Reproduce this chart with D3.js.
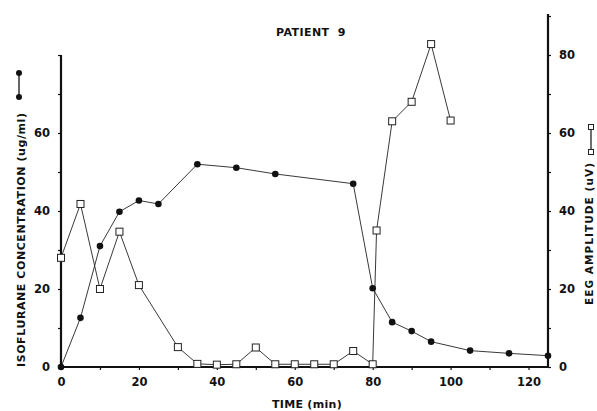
<!DOCTYPE html>
<html>
<head>
<meta charset="utf-8">
<script src="https://cdn.jsdelivr.net/npm/d3@7"></script>
<style>
  body { margin: 0; background: #fff; }
  text { font-family: "DejaVu Sans", sans-serif; font-weight: bold; fill: #111; }
</style>
</head>
<body>
<div id="chart"></div>
<script>
var width = 597;
var height = 411;

// isoflurane concentration (ug/ml), left axis
var isoTime = [0, 5, 10, 15, 20, 25, 35, 45, 55, 75, 80, 85, 90, 95, 105, 115, 125];
var isoConc = [0, 12.6, 31, 39.8, 42.7, 41.8, 52, 51.1, 49.5, 47, 20.2, 11.5, 9.2, 6.5, 4.2, 3.5, 2.9];

// EEG amplitude (uV), right axis
var eegTime = [0, 5, 10, 15, 20, 30, 35, 40, 45, 50, 55, 60, 65, 70, 75, 80, 81, 85, 90, 95, 100];
var eegAmp = [28, 41.8, 20, 34.7, 21, 5.1, 0.8, 0.6, 0.7, 5, 0.7, 0.7, 0.7, 0.7, 4.1, 0.7, 35, 63, 68, 82.8, 63.2];

var xTicks = [0, 20, 40, 60, 80, 100, 120];
var leftTicks = [0, 20, 40, 60];
var rightTicks = [0, 20, 40, 60, 80];

var svg = d3.select("#chart")
  .append("svg")
  .attr("width", width)
  .attr("height", height);

var x = d3.scaleLinear().domain([0, 125]).range([61, 548]);
var yLeft = d3.scaleLinear().domain([0, 80]).range([367, 55]);
var yRight = d3.scaleLinear().domain([0, 90]).range([367, 16]);

// axes
var xAxis = d3.axisBottom(x).tickValues(d3.range(0, 126, 10)).tickSize(3)
  .tickFormat(function(d) { return xTicks.indexOf(d) >= 0 ? d : ""; });
var gx = svg.append("g").attr("transform", "translate(0,367)").call(xAxis);

var leftAxis = d3.axisLeft(yLeft).tickValues(d3.range(0, 81, 10)).tickSize(3)
  .tickFormat(function(d) { return leftTicks.indexOf(d) >= 0 ? d : ""; });
var gl = svg.append("g").attr("transform", "translate(61,0)").call(leftAxis);

var rightAxis = d3.axisRight(yRight).tickValues(d3.range(0, 91, 10)).tickSize(3)
  .tickFormat(function(d) { return rightTicks.indexOf(d) >= 0 ? d : ""; });
var gr = svg.append("g").attr("transform", "translate(548,0)").call(rightAxis);

[gx, gl, gr].forEach(function(g) {
  g.select(".domain").attr("stroke", "#111").attr("stroke-width", 2.2);
  g.selectAll(".tick line").attr("stroke", "#111").attr("stroke-width", 1.2);
  g.selectAll(".tick text")
    .style("font-family", "'DejaVu Sans', sans-serif")
    .style("font-weight", "bold")
    .style("font-size", "11.5px")
    .attr("fill", "#111");
});
gx.selectAll(".domain").attr("d", "M61,0H548");
gl.selectAll(".domain").attr("d", "M0,367V55");
gr.selectAll(".domain").attr("d", "M0,368V14");
gx.selectAll(".tick text").attr("dy", "0.71em").attr("y", 11);
gl.selectAll(".tick text").attr("x", -11);
gr.selectAll(".tick text").attr("x", 11);

// lines
var isoLine = d3.line()
  .x(function(d, i) { return x(isoTime[i]); })
  .y(function(d) { return yLeft(d); });
var eegLine = d3.line()
  .x(function(d, i) { return x(eegTime[i]); })
  .y(function(d) { return yRight(d); });

svg.append("path")
  .attr("d", isoLine(isoConc))
  .attr("fill", "none")
  .attr("stroke", "#222")
  .attr("stroke-width", 0.9);

svg.append("path")
  .attr("d", eegLine(eegAmp))
  .attr("fill", "none")
  .attr("stroke", "#222")
  .attr("stroke-width", 0.9);

svg.selectAll("circle.iso")
  .data(isoConc)
  .enter()
  .append("circle")
  .attr("class", "iso")
  .attr("cx", function(d, i) { return x(isoTime[i]); })
  .attr("cy", function(d) { return yLeft(d); })
  .attr("r", 3.3)
  .attr("fill", "#111");

svg.selectAll("rect.eeg")
  .data(eegAmp)
  .enter()
  .append("rect")
  .attr("class", "eeg")
  .attr("x", function(d, i) { return x(eegTime[i]) - 3.5; })
  .attr("y", function(d) { return yRight(d) - 3.5; })
  .attr("width", 7)
  .attr("height", 7)
  .attr("fill", "#fff")
  .attr("stroke", "#222")
  .attr("stroke-width", 1);

// titles
svg.append("text")
  .attr("x", 311)
  .attr("y", 36)
  .attr("text-anchor", "middle")
  .style("font-size", "11px")
  .style("letter-spacing", "0.4px")
  .style("white-space", "pre")
  .text("PATIENT  9");

svg.append("text")
  .attr("x", 307)
  .attr("y", 408)
  .attr("text-anchor", "middle")
  .style("font-size", "11px")
  .style("letter-spacing", "0.3px")
  .text("TIME (min)");

svg.append("text")
  .attr("transform", "translate(25,240) rotate(-90)")
  .attr("text-anchor", "middle")
  .style("font-size", "11px")
  .attr("textLength", 254)
  .text("ISOFLURANE CONCENTRATION (ug/ml)");

svg.append("text")
  .attr("transform", "translate(593,234) rotate(-90)")
  .attr("text-anchor", "middle")
  .style("font-size", "10.5px")
  .attr("textLength", 142)
  .text("EEG AMPLITUDE (uV)");

// legend keys
svg.append("path").attr("d", "M19,73V97")
  .attr("stroke", "#111").attr("stroke-width", 1.3);
svg.append("circle").attr("cx", 19).attr("cy", 73).attr("r", 3).attr("fill", "#111");
svg.append("circle").attr("cx", 19).attr("cy", 97).attr("r", 3).attr("fill", "#111");

svg.append("path").attr("d", "M591,127V152")
  .attr("stroke", "#222").attr("stroke-width", 1.3);
svg.append("rect").attr("x", 588.5).attr("y", 124.5).attr("width", 5).attr("height", 5)
  .attr("fill", "#fff").attr("stroke", "#222");
svg.append("rect").attr("x", 588.5).attr("y", 149.5).attr("width", 5).attr("height", 5)
  .attr("fill", "#fff").attr("stroke", "#222");
</script>
</body>
</html>
